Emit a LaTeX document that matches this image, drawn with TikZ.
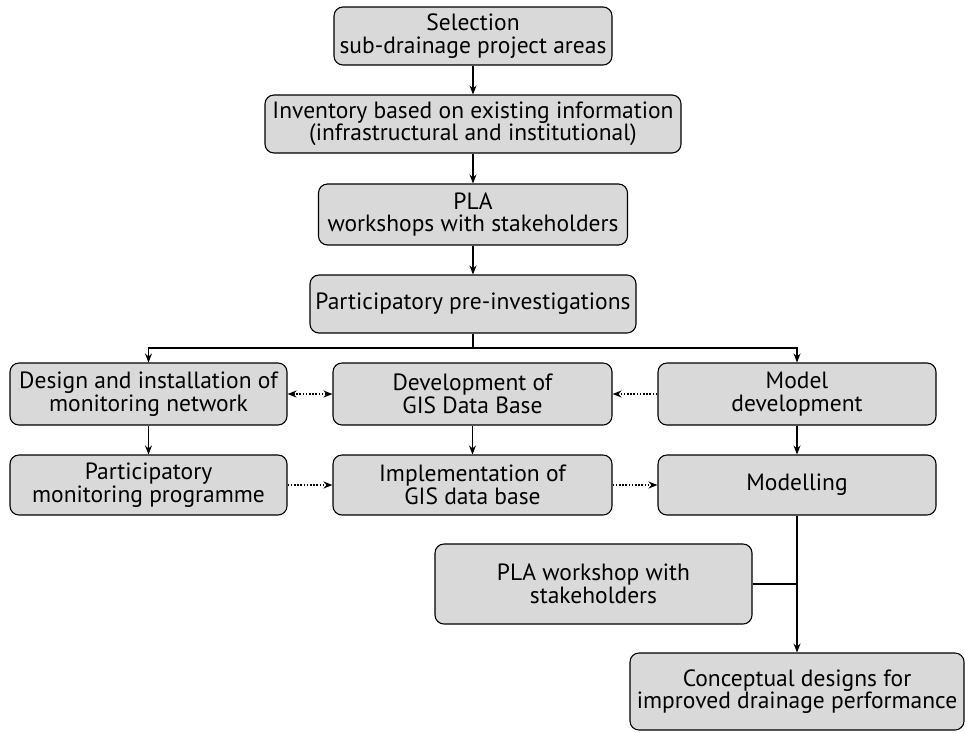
\documentclass[tikz,border=0pt]{standalone}
\usepackage{fontspec}
\setmainfont{PT Sans}
\usetikzlibrary{arrows.meta}
\definecolor{boxgray}{HTML}{D9D9D9}
\begin{document}
\begin{tikzpicture}[x=1pt,y=-1pt,
  box/.style={draw=black, line width=1.1pt, fill=boxgray, rounded corners=9pt,
    align=center, inner sep=2pt, font=\fontsize{23.5}{22.5}\selectfont},
  tip/.style={},
  arr/.style={line width=1.1pt, -{Stealth[length=9pt,width=7pt,inset=3pt]}},
  link/.style={line width=1.1pt},
  dotline/.style={line width=1.6pt, dash pattern=on 1.6pt off 1.6pt},
  dotarr/.style={dotline, -{Stealth[length=9pt,width=7pt,inset=3pt]}},
  dotboth/.style={dotline, {Stealth[length=9pt,width=7pt,inset=3pt]}-{Stealth[length=9pt,width=7pt,inset=3pt]}}]
\useasboundingbox (0,0) rectangle (965,732);

% main sequence
\node[box, minimum width=278pt, minimum height=58pt] (sel) at (473,36)
  {Selection\\sub-drainage project areas};
\node[box, minimum width=416pt, minimum height=58pt] (inv) at (473,124)
  {Inventory based on existing information\\(infrastructural and institutional)};
\node[box, minimum width=309pt, minimum height=61pt] (pla) at (473,214.5)
  {PLA\\workshops with stakeholders};
\node[box, minimum width=326pt, minimum height=58pt] (pre) at (473,304)
  {Participatory pre-investigations};

% three columns
\node[box, minimum width=277pt, minimum height=62pt] (des) at (148.5,394)
  {Design and installation of\\monitoring network};
\node[box, minimum width=279pt, minimum height=62pt] (dev) at (472.5,394)
  {Development of\\GIS Data Base};
\node[box, minimum width=278pt, minimum height=62pt] (mod) at (797,394)
  {Model\\development};
\node[box, minimum width=277pt, minimum height=60pt] (pmp) at (148.5,485)
  {Participatory\\monitoring programme};
\node[box, minimum width=279pt, minimum height=60pt] (imp) at (472.5,485)
  {Implementation of\\GIS data base};
\node[box, minimum width=278pt, minimum height=60pt] (mdl) at (797,485)
  {Modelling};

% final steps
\node[box, minimum width=317pt, minimum height=80pt] (plaw) at (593.5,584)
  {PLA workshop with\\stakeholders};
\node[box, minimum width=334pt, minimum height=77pt] (con) at (797,691.5)
  {Conceptual designs for\\improved drainage performance};

% connectors
\draw[arr] (sel) -- (inv);
\draw[arr] (inv) -- (pla);
\draw[arr] (pla) -- (pre);
\coordinate (split) at (473,348);
\draw[link] (pre) -- (split);
\draw[arr] (split) -| (des.north);
\draw[arr] (split) -| (mod.north);
\draw[arr] (des) -- (pmp);
\draw[arr] (dev) -- (imp);
\draw[arr] (mod) -- (mdl);
\draw[dotboth] (des) -- (dev);
\draw[dotarr] (mod) -- (dev);
\draw[dotarr] (pmp) -- (imp);
\draw[dotarr] (imp) -- (mdl);
\draw[arr] (mdl) -- (con);
\draw[link] (plaw.east) -- (plaw.east -| mdl.south);
\end{tikzpicture}
\end{document}
